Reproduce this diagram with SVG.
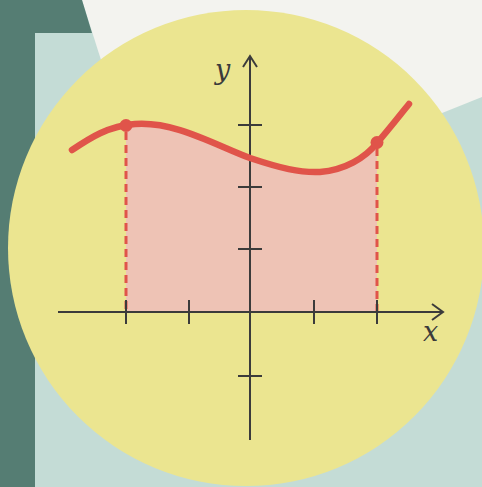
<svg xmlns="http://www.w3.org/2000/svg" width="482" height="487" viewBox="0 0 482 487">
  <style>
    .axis { stroke: #3b3b3b; stroke-width: 2; fill: none; }
    .tick { stroke: #3b3b3b; stroke-width: 2; }
    .curve { stroke: #e0544a; stroke-width: 6.5; fill: none; stroke-linecap: round; }
    .dash { stroke: #e0544a; stroke-width: 3; stroke-dasharray: 8 5; fill: none; }
    .lbl { font-family: "DejaVu Serif", "Liberation Serif", serif; font-style: italic; font-size: 27px; fill: #3b3b3b; }
  </style>
  <defs>
    <clipPath id="band">
      <rect x="126" y="0" width="251" height="487"/>
    </clipPath>
  </defs>
  <g id="background">
    <rect x="0" y="0" width="482" height="487" fill="#c4dcd6"/>
    <polygon points="82,0 482,0 482,97 250,190 120,120" fill="#f3f3ef"/>
    <polygon points="0,0 82,0 92,33 35,33 35,487 0,487" fill="#557d73"/>
    <circle cx="246" cy="248" r="238" fill="#ebe590"/>
  </g>
  <g id="area">
    <path clip-path="url(#band)" d="M72,150 C90,138 108,126 135,124 C175,121 215,145 250,158 C280,168 300,173 320,172 C345,170 365,158 377,143 C390,128 400,115 409,104 L409,312 L72,312 Z" fill="#eec3b5"/>
  </g>
  <g id="connectors">
    <line class="dash" x1="126" y1="132" x2="126" y2="312"/>
    <line class="dash" x1="377" y1="148" x2="377" y2="312"/>
  </g>
  <g id="x-axis">
    <line class="axis" x1="58" y1="312" x2="442" y2="312"/>
    <polyline class="axis" points="432,304 443,312 432,320"/>
    <line class="tick" x1="126" y1="300" x2="126" y2="324"/>
    <line class="tick" x1="189" y1="300" x2="189" y2="324"/>
    <line class="tick" x1="314" y1="300" x2="314" y2="324"/>
    <line class="tick" x1="377" y1="300" x2="377" y2="324"/>
    <text class="lbl" x="423" y="341">x</text>
  </g>
  <g id="y-axis">
    <line class="axis" x1="250" y1="56" x2="250" y2="440"/>
    <polyline class="axis" points="243,67 250,56 257,67"/>
    <line class="tick" x1="238" y1="125" x2="262" y2="125"/>
    <line class="tick" x1="238" y1="187" x2="262" y2="187"/>
    <line class="tick" x1="238" y1="249" x2="262" y2="249"/>
    <line class="tick" x1="238" y1="376" x2="262" y2="376"/>
    <text class="lbl" x="215" y="79">y</text>
  </g>
  <g id="curve">
    <path class="curve" d="M72,150 C90,138 108,126 135,124 C175,121 215,145 250,158 C280,168 300,173 320,172 C345,170 365,158 377,143 C390,128 400,115 409,104"/>
    <circle cx="126" cy="125.5" r="6.5" fill="#e0544a"/>
    <circle cx="377" cy="142.5" r="6.5" fill="#e0544a"/>
  </g>
</svg>
